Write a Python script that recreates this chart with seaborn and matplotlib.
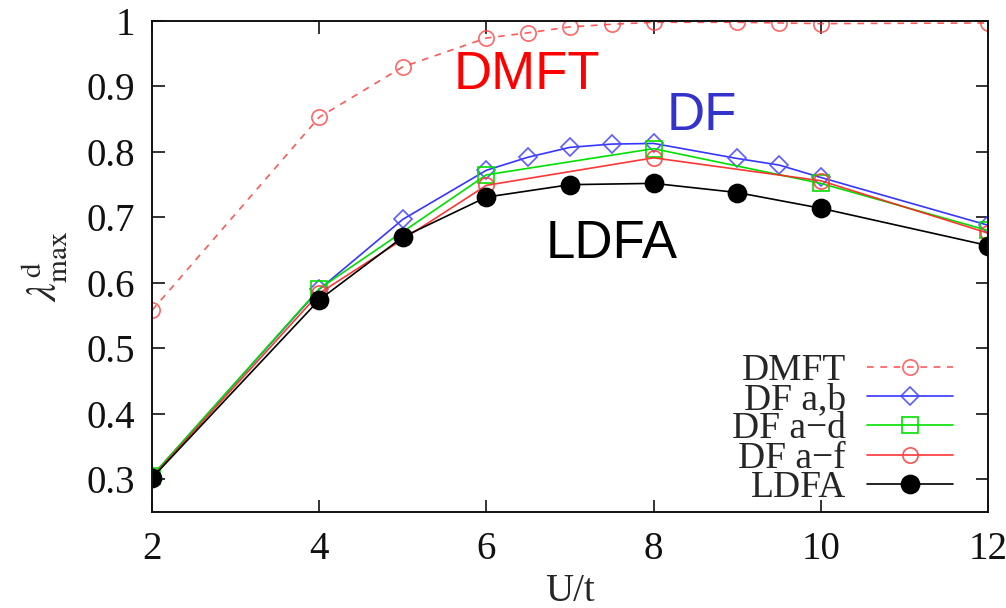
import matplotlib
matplotlib.use("Agg")
import matplotlib.pyplot as plt
import seaborn as sns
import pandas as pd

# U/t grid for each method
u_dmft = [2, 4, 5, 6, 6.5, 7, 7.5, 8, 9, 9.5, 10, 12]
lam_dmft = [0.558, 0.853, 0.930, 0.974, 0.982, 0.991, 0.995, 0.998, 0.998, 0.997, 0.996, 0.997]

u_df_ab = [2, 4, 5, 6, 6.5, 7, 7.5, 8, 9, 9.5, 10, 12]
lam_df_ab = [0.305, 0.590, 0.697, 0.772, 0.792, 0.807, 0.812, 0.813, 0.790, 0.780, 0.761, 0.688]

u_df_ad = [2, 4, 6, 8, 10, 12]
lam_df_ad = [0.305, 0.591, 0.765, 0.805, 0.752, 0.680]

u_df_af = [2, 4, 6, 8, 10, 12]
lam_df_af = [0.303, 0.584, 0.749, 0.791, 0.756, 0.676]

u_ldfa = [2, 4, 5, 6, 7, 8, 9, 10, 12]
lam_ldfa = [0.302, 0.574, 0.670, 0.731, 0.750, 0.752, 0.738, 0.714, 0.657]

x_ticks = [2, 4, 6, 8, 10, 12]
y_ticks = [0.3, 0.4, 0.5, 0.6, 0.7, 0.8, 0.9, 1.0]
y_tick_labels = ["0.3", "0.4", "0.5", "0.6", "0.7", "0.8", "0.9", "1"]

sns.set_theme(style="ticks")
plt.rcParams["font.family"] = ["Liberation Serif", "DejaVu Serif"]
plt.rcParams["mathtext.fontset"] = "stix"

fig = plt.figure(figsize=(10.06, 6.08), dpi=100)
ax = fig.add_axes([152 / 1006, 1 - 512 / 608, 836 / 1006, 491 / 608])

series = [
    ("DMFT", u_dmft, lam_dmft, dict(color="#ff3030", linestyle=(0, (4, 4)), marker="o",
                                     mfc="none", mec="#ff4040", ms=11, alpha=0.8)),
    ("DF a,b", u_df_ab, lam_df_ab, dict(color="#2020ff", linestyle="-", marker="D",
                                        mfc="none", mec="#4a4aff", ms=9.5, alpha=0.9)),
    ("DF a\u2212d", u_df_ad, lam_df_ad, dict(color="#00e000", linestyle="-", marker="s",
                                             mfc="none", mec="#00e000", ms=11)),
    ("DF a\u2212f", u_df_af, lam_df_af, dict(color="#ff2020", linestyle="-", marker="o",
                                             mfc="none", mec="#ff4040", ms=11, alpha=0.9)),
    ("LDFA", u_ldfa, lam_ldfa, dict(color="#000000", linestyle="-", marker="o",
                                    mfc="#000000", mec="#000000", ms=13)),
]

for name, xs, ys, style in series:
    df = pd.DataFrame({"U/t": xs, "lam": ys})
    sns.lineplot(data=df, x="U/t", y="lam", ax=ax, label=name, estimator=None,
                 sort=False, linewidth=1.2, mew=1.2, **style)

ax.set_xlim(2, 12)
ax.set_ylim(0.25, 1.0)
ax.set_xticks(x_ticks)
ax.set_xticklabels([str(v) for v in x_ticks])
ax.set_yticks(y_ticks)
ax.set_yticklabels(y_tick_labels)
ax.tick_params(direction="in", length=9, width=1.2, top=True, right=True,
               labelsize=28, colors="#111111")
ax.tick_params(axis="x", pad=14)
ax.tick_params(axis="y", pad=12)
for sp in ax.spines.values():
    sp.set_linewidth(1.4)
    sp.set_color("#111111")

ax.set_xlabel("U/t", fontsize=28, labelpad=3)
ax.set_ylabel(r"$\lambda^{\mathrm{d}}_{\mathrm{max}}$", fontsize=30, labelpad=12)

# method labels inside the plot
ax.text(6.49, 0.917, "DMFT", color="#ff0000", fontsize=38,
        family="Liberation Sans", ha="center", va="center")
ax.text(8.58, 0.855, "DF", color="#3333cc", fontsize=38,
        family="Liberation Sans", ha="center", va="center")
ax.text(7.50, 0.660, "LDFA", color="#000000", fontsize=38,
        family="Liberation Sans", ha="center", va="center")

leg = ax.legend(loc="lower right", frameon=False, fontsize=27, markerfirst=False,
                handlelength=2.3, handletextpad=0.55, labelspacing=-0.14,
                borderaxespad=0.0, borderpad=0.0,
                bbox_to_anchor=((953 - 152) / 836, 7 / 491))

fig.savefig("out.png", dpi=100)
